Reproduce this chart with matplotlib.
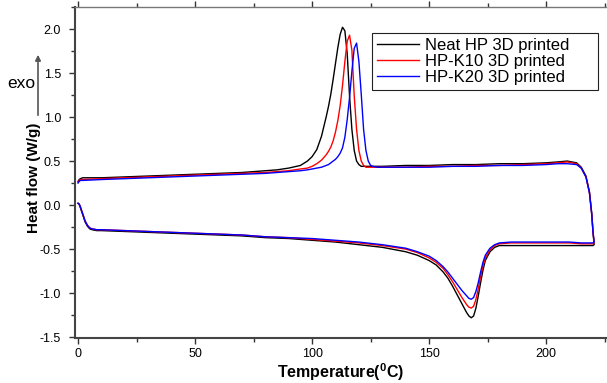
import numpy as np
import matplotlib
matplotlib.use("Agg")
import matplotlib.pyplot as plt
from matplotlib.ticker import MultipleLocator

plt.rcParams['font.family'] = ['Liberation Sans', 'DejaVu Sans']
plt.rcParams['mathtext.default'] = 'regular'
plt.rcParams['axes.unicode_minus'] = False

labels = ["Neat HP 3D printed", "HP-K10 3D printed", "HP-K20 3D printed"]
colors = ["black", "red", "blue"]

# heating run (lower curve), 0 -> 220 C
heat_T = [0, 0.5, 1, 2, 3, 4, 5, 6, 8, 10, 20, 30, 40, 50, 60, 70, 80, 90, 100,
          110, 120, 130, 140, 145, 150, 153, 156, 158, 160, 162, 164, 165, 166,
          167, 168, 169, 170, 171, 172, 173, 174, 176, 178, 180, 185, 190, 200,
          210, 215, 218, 220, 220.5]
heat_neat = [0.02, 0.01, -0.03, -0.11, -0.19, -0.24, -0.27, -0.28, -0.29, -0.29,
             -0.30, -0.31, -0.32, -0.33, -0.34, -0.35, -0.37, -0.38, -0.40,
             -0.42, -0.45, -0.48, -0.53, -0.57, -0.63, -0.68, -0.76, -0.83,
             -0.92, -1.02, -1.12, -1.17, -1.22, -1.26, -1.28, -1.26, -1.17,
             -1.03, -0.88, -0.74, -0.63, -0.53, -0.48, -0.46, -0.46, -0.46,
             -0.46, -0.46, -0.46, -0.46, -0.46, -0.45]
heat_k10 = [0.02, 0.01, -0.02, -0.10, -0.18, -0.23, -0.26, -0.27, -0.28, -0.28,
            -0.29, -0.30, -0.31, -0.32, -0.33, -0.34, -0.36, -0.37, -0.39,
            -0.41, -0.43, -0.46, -0.50, -0.54, -0.60, -0.65, -0.72, -0.79,
            -0.87, -0.96, -1.05, -1.09, -1.13, -1.16, -1.17, -1.15, -1.07,
            -0.95, -0.81, -0.69, -0.60, -0.51, -0.46, -0.44, -0.43, -0.43,
            -0.43, -0.43, -0.44, -0.44, -0.44, -0.43]
heat_k20 = [0.02, 0.01, -0.02, -0.10, -0.18, -0.23, -0.26, -0.27, -0.28, -0.28,
            -0.29, -0.30, -0.31, -0.32, -0.33, -0.34, -0.36, -0.37, -0.38,
            -0.40, -0.42, -0.45, -0.49, -0.53, -0.58, -0.63, -0.70, -0.76,
            -0.83, -0.90, -0.97, -1.00, -1.03, -1.06, -1.07, -1.05, -0.98,
            -0.88, -0.76, -0.65, -0.57, -0.49, -0.45, -0.43, -0.42, -0.42,
            -0.42, -0.42, -0.43, -0.43, -0.43, -0.42]

# cooling run (upper curve), listed 0 -> 220 C
cool_T = [0, 0.5, 1, 2, 10, 20, 30, 40, 50, 60, 70, 80, 85, 90, 95, 98, 100, 102,
          104, 106, 107, 108, 109, 110, 111, 112, 113, 114, 115, 116, 117, 118,
          119, 120, 121, 122, 123, 124, 125, 126, 128, 130, 140, 150, 160, 170,
          180, 190, 200, 205, 209, 213, 215, 217, 218.5, 219.5, 220, 220.5]
cool_neat = [0.27, 0.29, 0.30, 0.31, 0.31, 0.32, 0.33, 0.34, 0.35, 0.36, 0.37,
             0.39, 0.40, 0.42, 0.45, 0.50, 0.55, 0.63, 0.78, 1.00, 1.12, 1.26,
             1.43, 1.61, 1.79, 1.94, 2.02, 1.98, 1.72, 1.24, 0.86, 0.62, 0.50,
             0.46, 0.44, 0.44, 0.44, 0.44, 0.44, 0.44, 0.44, 0.44, 0.45, 0.45,
             0.46, 0.46, 0.47, 0.47, 0.48, 0.49, 0.50, 0.48, 0.43, 0.33, 0.15,
             -0.10, -0.30, -0.45]
cool_k10 = [0.26, 0.28, 0.29, 0.29, 0.30, 0.31, 0.32, 0.33, 0.34, 0.35, 0.36,
            0.37, 0.38, 0.39, 0.41, 0.42, 0.44, 0.47, 0.51, 0.57, 0.61, 0.66,
            0.73, 0.83, 0.96, 1.13, 1.36, 1.63, 1.86, 1.93, 1.76, 1.24, 0.86,
            0.62, 0.50, 0.45, 0.43, 0.43, 0.43, 0.43, 0.43, 0.43, 0.43, 0.44,
            0.44, 0.45, 0.45, 0.46, 0.47, 0.48, 0.49, 0.47, 0.42, 0.32, 0.14,
            -0.11, -0.30, -0.43]
cool_k20 = [0.25, 0.27, 0.28, 0.28, 0.29, 0.30, 0.31, 0.32, 0.33, 0.34, 0.35,
            0.36, 0.37, 0.38, 0.39, 0.40, 0.41, 0.42, 0.43, 0.45, 0.46, 0.48,
            0.50, 0.52, 0.55, 0.59, 0.65, 0.77, 0.97, 1.22, 1.52, 1.78, 1.84,
            1.63, 1.26, 0.86, 0.62, 0.50, 0.45, 0.44, 0.43, 0.43, 0.43, 0.43,
            0.44, 0.44, 0.45, 0.45, 0.46, 0.47, 0.47, 0.46, 0.42, 0.32, 0.14,
            -0.11, -0.30, -0.42]

heat = [heat_neat, heat_k10, heat_k20]
cool = [cool_neat, cool_k10, cool_k20]

fig = plt.figure(figsize=(6.07, 3.83), dpi=100)
ax = fig.add_axes([75/607, 45/383, 532/607, 331/383])

for h, c, lab, col in zip(heat, cool, labels, colors):
    T = np.concatenate([heat_T, cool_T[::-1]])
    q = np.concatenate([h, c[::-1]])
    # trailing spaces only widen the legend box on the right
    ax.plot(T, q, color=col, lw=1.0, label=lab + "     ")

ax.set_xlim(-1.3, 226)
ax.set_ylim(-1.51, 2.25)
ax.xaxis.set_major_locator(MultipleLocator(50))
ax.xaxis.set_minor_locator(MultipleLocator(25))
ax.yaxis.set_major_locator(MultipleLocator(0.5))
ax.yaxis.set_minor_locator(MultipleLocator(0.25))
ax.tick_params(which='both', direction='out', labelsize=9, colors='#333333',
               top=True, labelcolor='black')
ax.tick_params(which='major', length=4, width=1)
ax.tick_params(which='minor', length=3, width=1)
ax.tick_params(axis='y', pad=6)
ax.tick_params(axis='x', pad=3)
ax.spines['right'].set_visible(False)
for s in ['left', 'bottom']:
    ax.spines[s].set_linewidth(1.5)
    ax.spines[s].set_color('#444444')
ax.spines['top'].set_color('#777777')
ax.spines['top'].set_linewidth(1.0)

ax.set_xlabel("Temperature($^0$C)", fontsize=11.5, fontweight='bold')
ax.set_ylabel("Heat flow (W/g)", fontsize=11, fontweight='bold')
ax.xaxis.set_label_coords(0.5, -0.07)
ax.yaxis.set_label_coords(-0.063, 0.483)

leg = ax.legend(loc='upper right', bbox_to_anchor=(0.983, 0.921), fontsize=12,
                fancybox=False, edgecolor='#222222', framealpha=1,
                handlelength=2.5, borderpad=0.3, labelspacing=0.05,
                handletextpad=0.4, borderaxespad=0)
leg.get_frame().set_linewidth(0.8)

# exo arrow
fig.add_artist(matplotlib.patches.FancyArrowPatch(
    (38/607, 1 - 118/383), (38/607, 1 - 52/383), transform=fig.transFigure,
    arrowstyle='-|>', mutation_scale=8, color='#555555', lw=1.2))
fig.text(21/607, 1 - 84/383, "exo", fontsize=12.5, ha='center', va='center')

fig.savefig("out.png", dpi=100)
